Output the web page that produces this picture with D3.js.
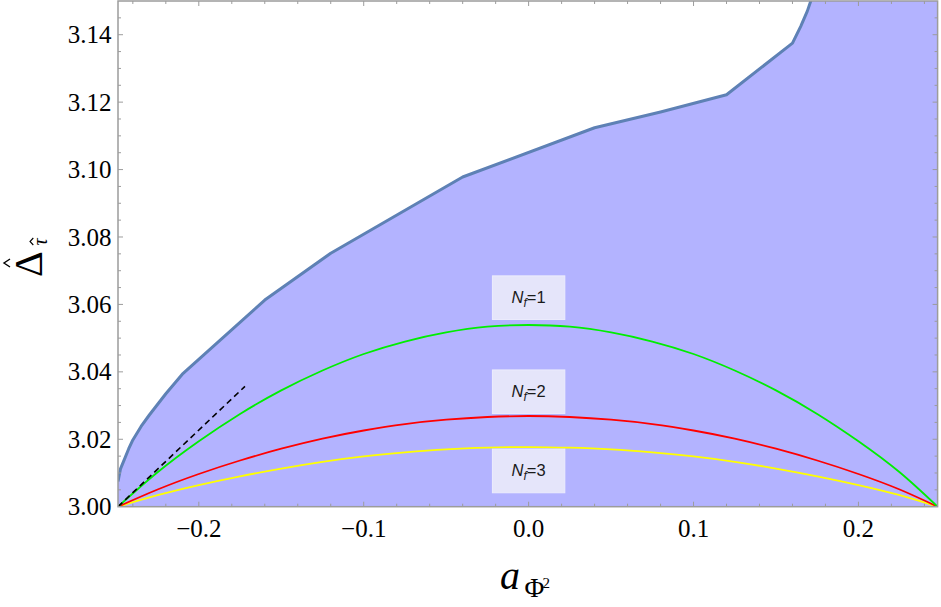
<!DOCTYPE html>
<html>
<head>
<meta charset="utf-8">
<script src="https://cdn.jsdelivr.net/npm/d3@7"></script>
<style>
  html, body { margin: 0; padding: 0; background: #fff; }
  svg { display: block; }
  .serif { font-family: "Liberation Serif", "Times New Roman", serif; }
  .sans { font-family: "Liberation Sans", Arial, sans-serif; }
</style>
</head>
<body>
<div id="chart"></div>
<script>
// ---------- data ----------
const xDomain = [-0.249, 0.248];
const yDomain = [3.00, 3.15];

const xMajorTicks = [-0.2, -0.1, 0.0, 0.1, 0.2];
const yMajorTicks = [3.00, 3.02, 3.04, 3.06, 3.08, 3.10, 3.12, 3.14];

// upper boundary of the allowed (shaded) region
const boundaryA = [-0.249, -0.2475, -0.245, -0.2425, -0.24, -0.235, -0.23, -0.22, -0.21, -0.16, -0.12, -0.04, 0.04, 0.08, 0.12, 0.16, 0.165, 0.169, 0.1725];
const boundaryD = [3.0075, 3.0112, 3.0142, 3.0172, 3.0198, 3.0238, 3.0272, 3.0335, 3.0393, 3.0613, 3.0752, 3.0978, 3.1124, 3.1171, 3.1222, 3.1375, 3.1425, 3.1470, 3.1520];

// curves for N_f = 1, 2, 3
const curveA  = [-0.249, -0.225, -0.2, -0.175, -0.15, -0.125, -0.1, -0.075, -0.05, -0.025, 0, 0.025, 0.05, 0.075, 0.1, 0.125, 0.15, 0.175, 0.2, 0.225, 0.248];
const nf1D = [3.0000, 3.0102, 3.0194, 3.0275, 3.0345, 3.0404, 3.0453, 3.0490, 3.0517, 3.0534, 3.0539, 3.0534, 3.0517, 3.0490, 3.0453, 3.0404, 3.0345, 3.0275, 3.0194, 3.0102, 3.0000];
const nf2D = [3.0000, 3.0051, 3.0097, 3.0137, 3.0172, 3.0202, 3.0226, 3.0245, 3.0258, 3.0266, 3.0269, 3.0266, 3.0258, 3.0245, 3.0226, 3.0202, 3.0172, 3.0137, 3.0097, 3.0051, 3.0000];
const nf3D = [3.0000, 3.0034, 3.0064, 3.0090, 3.0113, 3.0133, 3.0149, 3.0161, 3.0170, 3.0175, 3.0177, 3.0175, 3.0170, 3.0161, 3.0149, 3.0133, 3.0113, 3.0090, 3.0064, 3.0034, 3.0000];

// dashed reference line
const dashA = [-0.249, -0.172];
const dashD = [3.0000, 3.0357];

// labels
const labelTexts = ["1", "2", "3"];
const labelA = [0, 0, 0];
const labelD = [3.0620, 3.0341, 3.0106];

// ---------- layout ----------
const W = 941, H = 607;
const plot = { left: 118, right: 937.6, top: 1, bottom: 506.7 };

const svg = d3.select("#chart").append("svg")
  .attr("width", W).attr("height", H)
  .attr("viewBox", `0 0 ${W} ${H}`);

const x = d3.scaleLinear().domain(xDomain).range([plot.left, plot.right]);
const y = d3.scaleLinear().domain(yDomain).range([plot.bottom, plot.top]);

svg.append("defs").append("clipPath").attr("id", "clip")
  .append("rect")
  .attr("x", plot.left).attr("y", plot.top)
  .attr("width", plot.right - plot.left).attr("height", plot.bottom - plot.top);

const g = svg.append("g").attr("clip-path", "url(#clip)");

// shaded region
const boundary = boundaryA.map((a, i) => [a, boundaryD[i]]);
const regionPts = boundary.concat([[xDomain[1], 3.2], [xDomain[1], yDomain[0]], [xDomain[0], yDomain[0]]]);
g.append("path")
  .attr("d", d3.line().x(d => x(d[0])).y(d => y(d[1]))(regionPts) + "Z")
  .attr("fill", "#b3b3ff")
  .attr("stroke", "none");

// boundary line
g.append("path")
  .attr("d", d3.line().x(d => x(d[0])).y(d => y(d[1]))(boundary))
  .attr("fill", "none")
  .attr("stroke", "#5e81b5")
  .attr("stroke-width", 3)
  .attr("stroke-linejoin", "round");

// N_f curves
const smooth = d3.line().x(d => x(d[0])).y(d => y(d[1])).curve(d3.curveNatural);
const series = [
  { data: nf3D, color: "#ffff00" },
  { data: nf2D, color: "#ff0000" },
  { data: nf1D, color: "#00ee00" }
];
series.forEach(s => {
  g.append("path")
    .attr("d", smooth(curveA.map((a, i) => [a, s.data[i]])))
    .attr("fill", "none")
    .attr("stroke", s.color)
    .attr("stroke-width", 1.8);
});

// dashed line
g.append("path")
  .attr("d", d3.line().x(d => x(d[0])).y(d => y(d[1]))(dashA.map((a, i) => [a, dashD[i]])))
  .attr("fill", "none")
  .attr("stroke", "#000")
  .attr("stroke-width", 1.6)
  .attr("stroke-dasharray", "6,4");

// label boxes
const boxW = 72.4, boxH = 43.6;
labelTexts.forEach((t, i) => {
  const cx = x(labelA[i]), cy = y(labelD[i]);
  const lg = svg.append("g");
  lg.append("rect")
    .attr("x", cx - boxW / 2).attr("y", cy - boxH / 2)
    .attr("width", boxW).attr("height", boxH)
    .attr("fill", "#e5e5fa")
    .attr("stroke", "#ececfc").attr("stroke-width", 1);
  const tx = lg.append("text")
    .attr("class", "sans")
    .attr("x", cx).attr("y", cy + 5.5)
    .attr("text-anchor", "middle")
    .attr("font-size", 16.5)
    .attr("fill", "#1a1a1a");
  tx.append("tspan").attr("font-style", "italic").text("N");
  tx.append("tspan").attr("font-style", "italic").attr("font-size", 12).attr("dy", 4).text("f");
  tx.append("tspan").attr("dy", -4).text("=" + t);
});

// ---------- frame & ticks ----------
const frameColor = "#9c9c9c";
const fr = svg.append("g");
fr.append("rect")
  .attr("x", plot.left).attr("y", plot.top)
  .attr("width", plot.right - plot.left).attr("height", plot.bottom - plot.top)
  .attr("fill", "none").attr("stroke", frameColor).attr("stroke-width", 1.5);

const xMinor = d3.range(-0.24, 0.2401, 0.02).map(v => +v.toFixed(2));
const yMinor = d3.range(3.0, 3.1501, 0.005).map(v => +v.toFixed(3));
const isMajor = (v, arr) => arr.some(m => Math.abs(m - v) < 1e-6);

xMinor.forEach(v => {
  const len = isMajor(v, xMajorTicks) ? 5 : 3;
  const px = x(v);
  fr.append("line").attr("x1", px).attr("x2", px).attr("y1", plot.bottom).attr("y2", plot.bottom - len)
    .attr("stroke", frameColor).attr("stroke-width", 1);
  fr.append("line").attr("x1", px).attr("x2", px).attr("y1", plot.top).attr("y2", plot.top + len)
    .attr("stroke", frameColor).attr("stroke-width", 1);
});
yMinor.forEach(v => {
  if (v <= yDomain[0] + 1e-9 || v >= yDomain[1] - 1e-9) return;
  const len = isMajor(v, yMajorTicks) ? 5 : 3;
  const py = y(v);
  fr.append("line").attr("y1", py).attr("y2", py).attr("x1", plot.left).attr("x2", plot.left + len)
    .attr("stroke", frameColor).attr("stroke-width", 1);
  fr.append("line").attr("y1", py).attr("y2", py).attr("x1", plot.right).attr("x2", plot.right - len)
    .attr("stroke", frameColor).attr("stroke-width", 1);
});

// tick labels
const fx = d3.format(".1f"), fy = d3.format(".2f");
svg.append("g").selectAll("text").data(xMajorTicks).join("text")
  .attr("class", "serif")
  .attr("x", d => x(d)).attr("y", 536.5)
  .attr("text-anchor", "middle")
  .attr("font-size", 25).attr("fill", "#000")
  .text(d => fx(d));
svg.append("g").selectAll("text").data(yMajorTicks).join("text")
  .attr("class", "serif")
  .attr("x", 111.5).attr("y", d => y(d) + 8.6)
  .attr("text-anchor", "end")
  .attr("font-size", 25).attr("fill", "#000")
  .text(d => fy(d));

// x-axis label  a_{Φ²}
const xl = svg.append("g").attr("class", "serif").attr("fill", "#000");
xl.append("text").attr("x", 500).attr("y", 588.5).attr("font-size", 40).attr("font-style", "italic").text("a");
xl.append("text").attr("x", 524.5).attr("y", 596.7).attr("font-size", 27).text("Φ");
xl.append("text").attr("x", 542.5).attr("y", 588.3).attr("font-size", 15).text("2");

// y-axis label  Δ̂_τ̂ (rotated)
const yl = svg.append("g").attr("class", "serif").attr("transform", "translate(41.7,277) rotate(-90)")
  .attr("fill", "#000");
yl.append("text").attr("x", 0).attr("y", 0).attr("font-size", 40).text("Δ");
yl.append("path").attr("d", "M10,-31.7 L14,-37.7 L18,-31.7").attr("fill", "none").attr("stroke", "#000").attr("stroke-width", 1.4);
yl.append("text").attr("x", 31.5).attr("y", 5).attr("font-size", 20).attr("font-style", "italic").text("τ");
yl.append("path").attr("d", "M32,-8.4 L35.5,-11.7 L39,-8.4").attr("fill", "none").attr("stroke", "#000").attr("stroke-width", 1.1);
</script>
</body>
</html>
